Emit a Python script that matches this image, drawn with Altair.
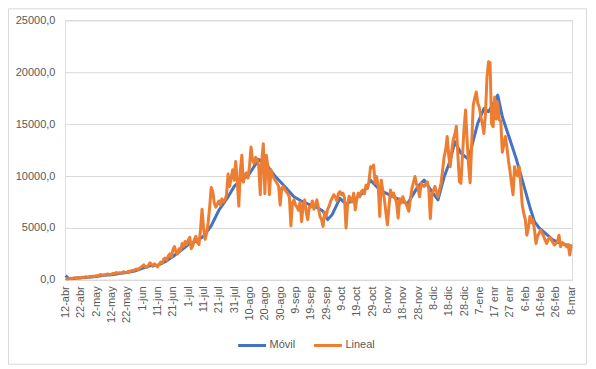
import json
import altair as alt
import pandas as pd

# x-axis tick labels (every 10 days, starting 12-abr)
tick_labels = ["12-abr", "22-abr", "2-may", "12-may", "22-may", "1-jun", "11-jun",
               "21-jun", "1-jul", "11-jul", "21-jul", "31-jul", "10-ago", "20-ago",
               "30-ago", "9-sep", "19-sep", "29-sep", "9-oct", "19-oct", "29-oct",
               "8-nov", "18-nov", "28-nov", "8-dic", "18-dic", "28-dic", "7-ene",
               "17 enr", "27 enr", "6-feb", "16-feb", "26-feb", "8-mar"]

series_names = ["Móvil", "Lineal"]

# "Lineal": daily values, day 0 = 12-abr
lineal = [
    150, 80, 120, 150, 100, 180, 200, 150, 220, 180,
    200, 250, 230, 300, 260, 280, 320, 300, 350, 330,
    400, 380, 450, 520, 420, 480, 500, 560, 530, 480,
    550, 620, 600, 700, 650, 680, 640, 720, 780, 700,
    750, 820, 800, 900, 880, 950, 1050, 1000, 1100, 1200,
    1300, 1450, 1250, 1200, 1400, 1650, 1500, 1300, 1550, 1400,
    1250, 1500, 1700, 1600, 2000, 2100, 1900, 2300, 2500, 2200,
    2900, 3200, 2700, 2500, 3000, 2800, 3500, 3200, 3700, 3400,
    3800, 4100, 3000, 3300, 3900, 4200, 3600, 3400, 4800, 6800,
    5000, 3900, 4500, 5500, 7000, 8900, 8500, 7400, 7000, 7300,
    7600, 7200, 7800, 7500, 7700, 8200, 10200, 9000, 9800, 10600,
    9600, 11400, 9500, 7100, 10500, 12000, 9400, 10100, 10300, 9800,
    11000, 12800, 11500, 11200, 11800, 11600, 11000, 8200, 11500, 13100,
    8300, 12000, 10900, 8200, 10600, 10000, 9800, 9500, 9300, 9000,
    7200, 8800, 9000, 8700, 8500, 8300, 8000, 5200, 7400, 7700,
    7200, 7000, 6700, 7500, 5600, 7200, 7700, 6500, 5800, 7000,
    7000, 7600, 6800, 7200, 7700, 6900, 6100, 5800, 5150, 6500,
    6100, 6800, 7100, 7600, 7900, 8200, 8000, 7600, 8300, 8500,
    8200, 8350, 7900, 5000, 7200, 8050, 7800, 7500, 8350, 6750,
    7800, 8350, 8000, 8500, 8650, 8300, 9100, 8800, 9500, 10900,
    10800, 11050, 9300, 9950, 9000, 6100, 9600, 8600, 7800, 6500,
    5300, 7000, 8650, 8000, 8350, 7900, 7400, 5950, 7800, 7400,
    8000, 7600, 7400, 7000, 6600, 7800, 8800, 9400, 9950, 9200,
    8800, 8000, 9300, 9100, 9000, 9200, 9450, 8800, 5900, 8200,
    8600, 9000, 8500, 8000, 8700, 9300, 10500, 11850, 12500, 13800,
    12000, 10900, 12500, 13500, 14000, 14800, 12000, 9450, 9300, 12000,
    14500, 16350, 13500, 11000, 9350, 13000, 16800, 17500, 18100, 17000,
    16600, 15700, 15000, 14100, 16000, 19500, 21000, 20900, 15000, 14750,
    17600, 15500, 17100, 15400, 15300, 12300, 13000, 13800, 12800, 11500,
    10500, 9300, 8200, 10900, 10250, 10000, 10900, 9300, 7200, 6400,
    5800, 4300, 5000, 6100, 5500, 5800, 4800, 3500, 4200, 4500,
    4800, 4500, 4200, 3800, 3500, 3900, 4100, 3850, 3600, 3350,
    3500, 3700, 4300, 3200, 3600, 3500, 3350, 3200, 3400, 2400, 3400,
]

# "Móvil": moving-average curve read at these days
movil_days = [0, 2, 5, 10, 15, 20, 25, 30, 35, 40, 45, 50, 55, 60, 65, 70, 75, 80, 85,
              90, 95, 100, 106, 110, 115, 119, 126, 132, 136, 143, 149, 155, 160, 165,
              168, 171, 174, 179, 183, 188, 194, 199, 205, 211, 218, 223, 230, 234, 239,
              243, 247, 251, 254, 258, 263, 266, 269, 273, 276, 280, 282, 285, 290, 294,
              299, 303, 306, 309, 313, 318, 323, 327, 330]
movil = [400, 130, 140, 190, 260, 330, 450, 500, 620, 700, 850, 1100, 1350, 1400, 1750,
         2250, 2800, 3400, 3700, 4200, 5200, 6700, 8000, 9000, 9700, 10000, 11600, 10900,
         10100, 9000, 8000, 7500, 7200, 6900, 6600, 5800, 6300, 7850, 7300, 7700, 8350,
         9600, 8650, 8200, 7700, 7300, 9000, 9600, 8500, 7700, 9900, 11500, 13300, 12200,
         11600, 13400, 15100, 16500, 16200, 17200, 17800, 15700, 13500, 11700, 9100, 7000,
         5600, 5000, 4500, 3850, 3500, 3350, 3250]

n_days = len(lineal)
df_l = pd.DataFrame({"day": list(range(n_days)), "value": lineal, "serie": series_names[1]})
df_m = pd.DataFrame({"day": movil_days, "value": movil, "serie": series_names[0]})

W, H = 508, 260
BLUE, ORANGE = "#4472C4", "#ED7D31"
FONT = "Liberation Sans"

label_expr = json.dumps(tick_labels) + "[round(datum.value / 10)]"

x_enc = alt.X("day:Q",
              scale=alt.Scale(domain=[-0.5, n_days - 0.5], nice=False, zero=False),
              axis=alt.Axis(values=list(range(0, n_days, 10)), labelExpr=label_expr,
                            labelAngle=270, grid=False, ticks=False, domain=True,
                            domainColor="#d9d9d9", labelColor="#595959",
                            labelFont=FONT, labelFontSize=11, labelPadding=6,
                            title=None, labelOverlap=False))
y_enc = alt.Y("value:Q",
              scale=alt.Scale(domain=[0, 25000], nice=False),
              axis=alt.Axis(values=[0, 5000, 10000, 15000, 20000, 25000],
                            labelExpr="replace(format(datum.value, '.1f'), '.', ',')",
                            grid=True, gridColor="#d9d9d9", domain=False, ticks=False,
                            labelColor="#595959", labelFont=FONT, labelFontSize=11,
                            labelPadding=10, title=None))
color_enc = alt.Color("serie:N",
                      scale=alt.Scale(domain=series_names, range=[BLUE, ORANGE]),
                      legend=alt.Legend(title=None, orient="none", direction="horizontal",
                                        legendX=172, legendY=310, symbolType="stroke",
                                        symbolSize=784, symbolStrokeWidth=3,
                                        labelFont=FONT, labelFontSize=11,
                                        labelColor="#595959", columnPadding=12,
                                        labelOffset=2))

border = alt.Chart(alt.Data(values=[{"a": 1}])).mark_rect(
    fillOpacity=0, stroke="#d9d9d9", strokeWidth=1
).encode(x=alt.value(-56.5), x2=alt.value(W + 14.5),
         y=alt.value(-11.5), y2=alt.value(H + 84.5))

line_m = alt.Chart(df_m).mark_line(strokeWidth=3, strokeJoin="round").encode(
    x=x_enc, y=y_enc, color=color_enc)
line_l = alt.Chart(df_l).mark_line(strokeWidth=3, strokeJoin="round").encode(
    x=x_enc, y=y_enc, color=color_enc)

chart = alt.layer(border, line_m, line_l).properties(
    width=W, height=H,
    autosize=alt.AutoSizeParams(type="none"),
    padding={"left": 57, "top": 12, "right": 16, "bottom": 87},
).configure_view(stroke=None).configure(background="white")

chart.save("out.html", embed_options={"renderer": "svg", "actions": False})
